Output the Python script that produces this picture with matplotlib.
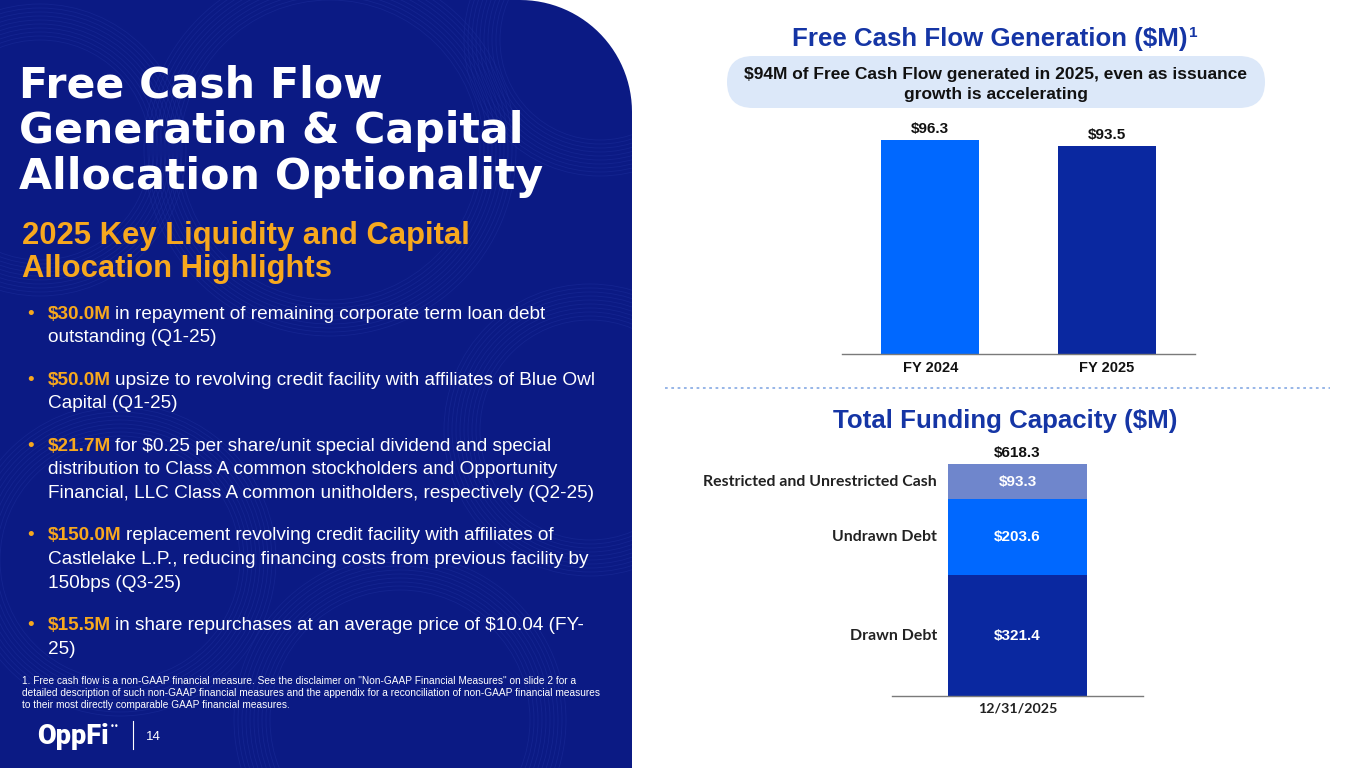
import matplotlib
matplotlib.use("Agg")
import matplotlib.pyplot as plt
import numpy as np
from matplotlib.patches import PathPatch, FancyBboxPatch, Circle
from matplotlib.path import Path

W, H = 1365, 768

# ---- data ----
FCF_YEARS = ["FY 2024", "FY 2025"]
FCF_VALUES = [96.3, 93.5]
FCF_COLORS = ["#0068FF", "#0A28A0"]

FUND_DATE = ["12/31/2025"]
FUND_PARTS = ["Drawn Debt", "Undrawn Debt", "Restricted and Unrestricted Cash"]
FUND_VALUES = [321.4, 203.6, 93.3]
FUND_TOTAL = 618.3
FUND_COLORS = ["#0A28A0", "#0068FF", "#6F86CC"]

HIGHLIGHT_AMOUNTS = ["$30.0M", "$50.0M", "$21.7M", "$150.0M", "$15.5M"]
HIGHLIGHT_TEXT = [
    ["in repayment of remaining corporate term loan debt", "outstanding (Q1-25)"],
    ["upsize to revolving credit facility with affiliates of Blue Owl", "Capital (Q1-25)"],
    ["for $0.25 per share/unit special dividend and special",
     "distribution to Class A common stockholders and Opportunity",
     "Financial, LLC Class A common unitholders, respectively (Q2-25)"],
    ["replacement revolving credit facility with affiliates of",
     "Castlelake L.P., reducing financing costs from previous facility by",
     "150bps (Q3-25)"],
    ["in share repurchases at an average price of $10.04 (FY-", "25)"],
]

FOOTNOTE = [
    '1. Free cash flow is a non-GAAP financial measure. See the disclaimer on "Non-GAAP Financial Measures" on slide 2 for a',
    "detailed description of such non-GAAP financial measures and the appendix for a reconciliation of non-GAAP financial measures",
    "to their most directly comparable GAAP financial measures.",
]

NAVY = "#0B1A84"
ORANGE = "#F7A81E"
TITLE_BLUE = "#1535A5"
SANS = ["Liberation Sans", "DejaVu Sans"]
LABEL_FONT = ["Lato", "DejaVu Sans"]

fig = plt.figure(figsize=(W / 100, H / 100), dpi=100)
fig.patch.set_facecolor("white")

# full-figure axes in pixel units (y down) for the slide layout
bg = fig.add_axes([0, 0, 1, 1])
bg.set_xlim(0, W)
bg.set_ylim(H, 0)
bg.axis("off")

# left navy panel with rounded top-right corner
R, PX = 112, 632
t = np.linspace(np.pi / 2, 0, 30)
arc = np.column_stack([PX - R + R * np.cos(t), R - R * np.sin(t)])
verts = np.vstack([[0, 0], arc, [PX, H], [0, H], [0, 0]])
panel = PathPatch(Path(verts, closed=True), facecolor=NAVY, edgecolor="none", zorder=0)
bg.add_patch(panel)

# faint swirl texture
for cx, cy, r0 in [(330, 150, 150), (120, 560, 120), (590, 430, 110),
                   (400, 720, 130), (40, 150, 110), (600, 40, 100)]:
    for k in range(10):
        c = Circle((cx, cy), r0 + k * 4, fill=False, edgecolor="#1A2B98",
                   lw=0.6, alpha=0.6, zorder=0.5)
        bg.add_patch(c)
        c.set_clip_path(panel)

renderer = fig.canvas.get_renderer()

# titles on the panel
for txt, yb in zip(["Free Cash Flow", "Generation & Capital", "Allocation Optionality"],
                   [97, 143, 189]):
    bg.text(19, yb, txt, color="white", fontsize=30.7, fontweight="bold",
            family="DejaVu Sans", va="baseline", ha="left")
for txt, yb in zip(["2025 Key Liquidity and Capital", "Allocation Highlights"], [244, 277]):
    bg.text(22, yb, txt, color=ORANGE, fontsize=22.3, fontweight="bold",
            family=SANS, va="baseline", ha="left")

# bullets
FS = 13.7
LINE = 23.5
yb = 319
for amt, lines in zip(HIGHLIGHT_AMOUNTS, HIGHLIGHT_TEXT):
    bg.text(27, yb, "•", color=ORANGE, fontsize=FS, family=SANS, va="baseline")
    a = bg.text(48, yb, amt, color=ORANGE, fontsize=FS, fontweight="bold",
                family=SANS, va="baseline")
    ext = a.get_window_extent(renderer)
    bg.text(ext.x1 + 4, yb, lines[0], color="white", fontsize=FS, family=SANS,
            va="baseline")
    for i, ln in enumerate(lines[1:], 1):
        bg.text(48, yb + i * LINE, ln, color="white", fontsize=FS, family=SANS,
                va="baseline")
    yb += (len(lines) - 1) * LINE + 42.5

for i, ln in enumerate(FOOTNOTE):
    bg.text(22, 684.5 + i * 12, ln, color="white", fontsize=7.3, family=SANS,
            va="baseline")

# logo + page number
logo = bg.text(37, 744, "OppFi", color="white", fontsize=19.5, fontweight="heavy",
               family=["Roboto", "DejaVu Sans"], va="baseline")
lext = logo.get_window_extent(renderer)
bg.text(lext.x1 + 1, 729, "••", color="white", fontsize=6, family="DejaVu Sans",
        va="baseline")
bg.plot([133, 133], [721, 749], color="white", lw=0.8)
bg.text(146, 740, "14", color="white", fontsize=9.5, family=SANS, va="baseline")

# right-side headings
tt = bg.text(990, 46, "Free Cash Flow Generation ($M)", color=TITLE_BLUE, fontsize=18.6,
             fontweight="bold", family=SANS, ha="center", va="baseline")
ext = tt.get_window_extent(renderer)
bg.text(ext.x1 + 1.5, 37, "1", color=TITLE_BLUE, fontsize=11, fontweight="bold",
        family=SANS, va="baseline")

pill = FancyBboxPatch((727, 56), 538, 52, boxstyle="round,pad=0,rounding_size=26",
                      facecolor="#DCE8F9", edgecolor="none")
bg.add_patch(pill)
bg.text(996, 79, "$94M of Free Cash Flow generated in 2025, even as issuance",
        fontsize=12.5, fontweight="bold", family=SANS, ha="center", va="baseline",
        color="#111111")
bg.text(996, 99, "growth is accelerating", fontsize=12.5, fontweight="bold",
        family=SANS, ha="center", va="baseline", color="#111111")

bg.plot([665, 1330], [388, 388], color="#8FB0E6", lw=1.3, ls=(0, (1.5, 2)))

bg.text(1005, 428, "Total Funding Capacity ($M)", color=TITLE_BLUE, fontsize=18.6,
        fontweight="bold", family=SANS, ha="center", va="baseline")


def px_axes(x0, x1, ytop, ybot):
    return fig.add_axes([x0 / W, 1 - ybot / H, (x1 - x0) / W, (ybot - ytop) / H])


def style_axes(ax):
    for s in ["top", "right", "left"]:
        ax.spines[s].set_visible(False)
    ax.spines["bottom"].set_color("#7A7A7A")
    ax.spines["bottom"].set_linewidth(1.0)
    ax.set_yticks([])
    ax.tick_params(axis="x", length=0, pad=5)
    ax.patch.set_alpha(0)


# ---- free cash flow bars ----
ax1 = px_axes(842, 1195, 120, 354)
bars = ax1.bar(FCF_YEARS, FCF_VALUES, width=0.555, color=FCF_COLORS)
ax1.bar_label(bars, labels=[f"${v}" for v in FCF_VALUES], padding=3,
              fontsize=11, fontweight="bold", family=SANS, color="#111111")
ax1.set_xlim(-0.5, 1.5)
ax1.set_ylim(0, 234 / 2.222)
style_axes(ax1)
for lab in ax1.get_xticklabels():
    lab.set_fontweight("bold")
    lab.set_fontsize(10.5)
    lab.set_family(SANS)
    lab.set_color("#111111")

# ---- funding capacity stacked bar ----
ax2 = px_axes(892, 1143, 440, 696)
bottom = 0
bw = 0.554
for name, val, col in zip(FUND_PARTS, FUND_VALUES, FUND_COLORS):
    cont = ax2.bar(FUND_DATE, [val], bottom=bottom, width=bw, color=col)
    ax2.bar_label(cont, labels=[f"${val}"], label_type="center", fontsize=11,
                  fontweight="bold", family=SANS, color="white")
    ax2.annotate(name, xy=(-bw / 2, bottom + val / 2), xytext=(-8, 0),
                 textcoords="offset points", ha="right", va="center",
                 fontsize=11.4, fontweight="bold", family=LABEL_FONT, color="#222222")
    bottom += val
ax2.bar_label(cont, labels=[f"${FUND_TOTAL}"], padding=3, fontsize=11,
              fontweight="bold", family=SANS, color="#111111")
ax2.set_xlim(-0.5, 0.5)
ax2.set_ylim(0, 256 / 0.375)
style_axes(ax2)
for lab in ax2.get_xticklabels():
    lab.set_fontweight("bold")
    lab.set_fontsize(10.3)
    lab.set_family(LABEL_FONT)
    lab.set_color("#222222")

fig.savefig("out.png", dpi=100)
